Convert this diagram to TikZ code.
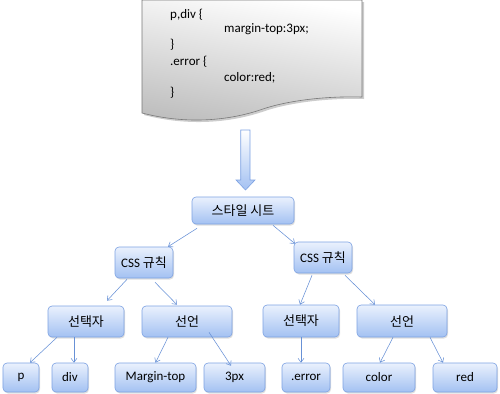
\documentclass[tikz,border=0pt]{standalone}
\usepackage{fontspec}
\setmainfont{Carlito}
\newfontfamily\kr{Noto Sans CJK KR}
\usetikzlibrary{calc,arrows.meta,shadows}
\definecolor{boxtop}{RGB}{234,241,253}
\definecolor{boxbot}{RGB}{163,193,242}
\definecolor{boxline}{RGB}{125,162,226}
\definecolor{lnk}{RGB}{104,145,214}
\definecolor{docline}{RGB}{120,120,120}
\tikzset{
  box/.style={draw=boxline, line width=0.6bp, rounded corners=4bp, top color=boxtop, bottom color=boxbot,
    drop shadow={opacity=0.25, shadow xshift=1bp, shadow yshift=-1.5bp},
    inner sep=0pt, font=\fontsize{13bp}{15bp}\selectfont},
  link/.style={draw=lnk, line width=0.55bp, -{Straight Barb[length=4bp,width=6bp,line width=0.55bp]}},
  code/.style={anchor=west, inner sep=0pt, font=\fontsize{13bp}{15bp}\selectfont}
}
\begin{document}
\begin{tikzpicture}[x=1bp,y=-1bp]
\useasboundingbox (0,0) rectangle (500,393);
% document shape
\path[fill=black, opacity=0.2] (144,2) -- (364,2) -- (364,99) .. controls (330,98) and (290,102) .. (262,112) .. controls (232,122) and (190,127) .. (144,115) -- cycle;
\path[draw=docline, line width=0.6bp, top color=white, bottom color={rgb,255:red,190;green,190;blue,190}, shading angle=-10]
  (142,0) -- (362,0) -- (362,97) .. controls (328,96) and (288,100) .. (260,110) .. controls (230,120) and (188,125) .. (142,113) -- cycle;
\node[code] (c1) at (170,15) {p,div \{};
\node[code] (c2) at (224,29) {margin-top:3px;};
\node[code] (c3) at (170,45) {\}};
\node[code] (c4) at (170,62) {.error \{};
\node[code] (c5) at (224,78) {color:red;};
\node[code] (c6) at (170,93) {\}};
% big arrow
\path[draw=boxline, line width=0.6bp, top color=white, bottom color=boxbot]
  (240.7,130) -- (250,130) -- (250,180) -- (255,180) -- (245.5,190) -- (236,180) -- (240.7,180) -- cycle;
% nodes
\node[box, minimum width=102bp, minimum height=27bp] (root) at (243,210.5) {\kr 스타일 시트};
\node[box, minimum width=58bp, minimum height=31bp] (cssL) at (144,262.5) {CSS {\kr 규칙}};
\node[box, minimum width=58bp, minimum height=31bp] (cssR) at (323,257.5) {CSS {\kr 규칙}};
\node[box, minimum width=76bp, minimum height=31bp] (selL) at (86,321.5) {\kr 선택자};
\node[box, minimum width=90bp, minimum height=31bp] (declL) at (187,321.5) {\kr 선언};
\node[box, minimum width=76bp, minimum height=32bp] (selR) at (301,321) {\kr 선택자};
\node[box, minimum width=90bp, minimum height=32bp] (declR) at (402,321) {\kr 선언};
\node[box, minimum width=36bp, minimum height=29bp] (p) at (21,377.5) {p};
\node[box, minimum width=36bp, minimum height=29bp] (div) at (70,377.5) {div};
\node[box, minimum width=81bp, minimum height=29bp] (mt) at (155.5,377.5) {Margin-top};
\node[box, minimum width=61bp, minimum height=29bp] (px) at (234.5,377.5) {3px};
\node[box, minimum width=48bp, minimum height=29bp] (err) at (306,377.5) {.error};
\node[box, minimum width=72bp, minimum height=29bp] (col) at (379,377.5) {color};
\node[box, minimum width=64bp, minimum height=29bp] (red) at (465,377.5) {red};
% connectors
\draw[link] ($(root.south)+(-46,4)$) -- ($(cssL.north)+(24,0)$);
\draw[link] ($(root.south)+(30,1)$) -- ($(cssR.north)+(-28,2)$);
\draw[link] ($(cssL.south)+(-17,1)$) -- ($(selL.north)+(21,-5)$);
\draw[link] ($(cssL.south)+(11,4)$) -- ($(declL.north)+(-10,-1)$);
\draw[link] ($(selL.south)+(-29,0)$) -- ($(p.north)+(9,0)$);
\draw[link] ($(selL.south)+(-12,0)$) -- ($(div.north)+(4,0)$);
\draw[link] ($(declL.south)+(-19,0)$) -- ($(mt.north)+(0,0)$);
\draw[link] ($(declL.south)+(22,-5)$) -- ($(px.north)+(-3.5,3)$);
\draw[link] ($(cssR.south)+(-11,2)$) -- ($(selR.north)+(-1,0)$);
\draw[link] ($(cssR.south)+(22,2)$) -- ($(declR.north)+(-27,0)$);
\draw[link] ($(selR.south)+(0,0)$) -- ($(err.north)+(-5,0)$);
\draw[link] ($(declR.south)+(-9,0)$) -- ($(col.north)+(1,0)$);
\draw[link] ($(declR.south)+(28,0)$) -- ($(red.north)+(-22,0)$);
\end{tikzpicture}
\end{document}
